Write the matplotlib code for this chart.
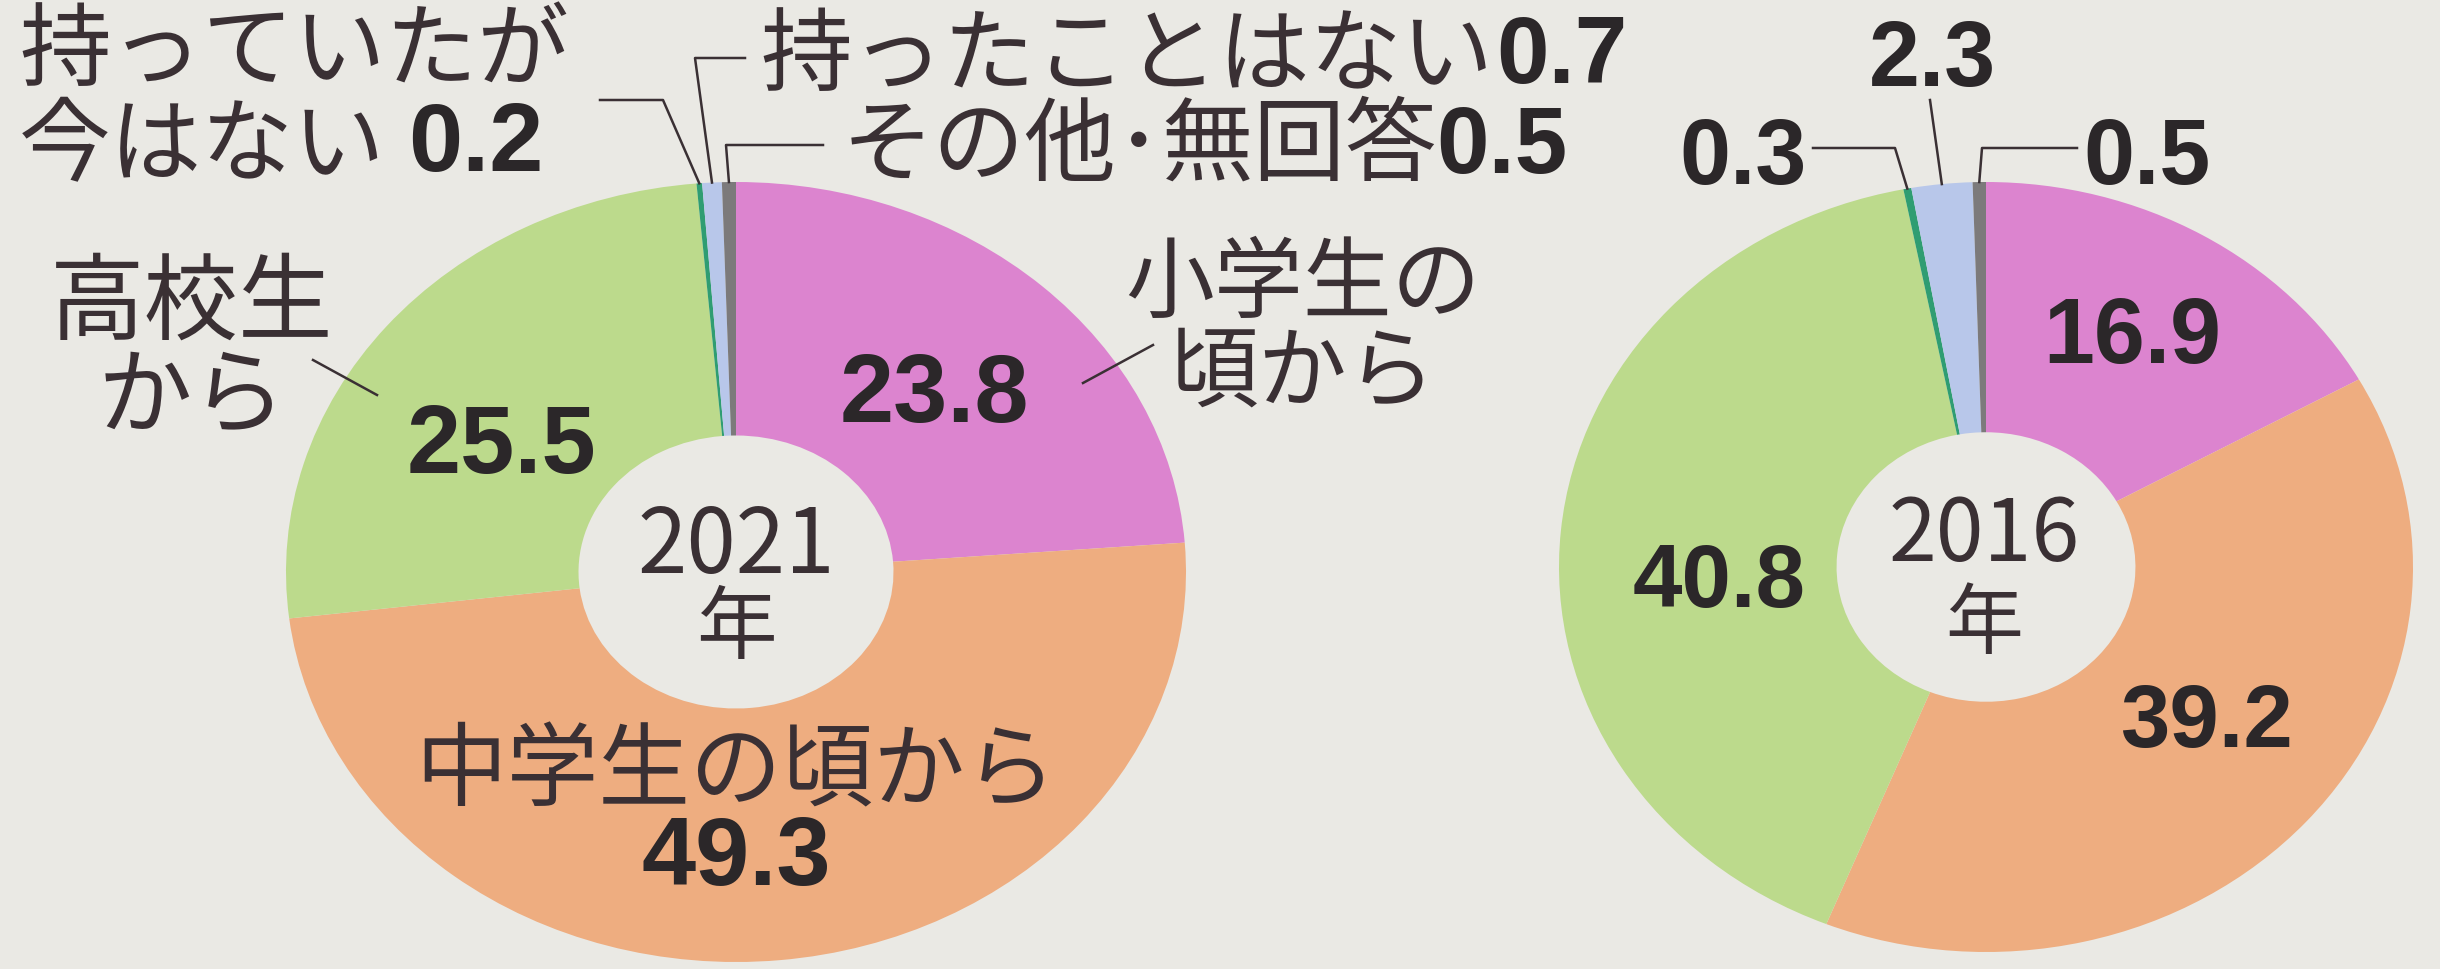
import numpy as np
import matplotlib
matplotlib.use("Agg")
import matplotlib.pyplot as plt
from matplotlib.lines import Line2D

# ============================================================
# DATA  (スマートフォンを持ち始めた時期, %)
# ============================================================

categories = [
    "小学生の頃から",
    "中学生の頃から",
    "高校生から",
    "持っていたが今はない",
    "持ったことはない",
    "その他・無回答",
]

share_2021 = [23.8, 49.3, 25.5, 0.2, 0.7, 0.5]
share_2016 = [16.9, 39.2, 40.8, 0.3, 2.3, 0.5]

years = ["2021", "2016"]

# ============================================================
# STYLE
# ============================================================

W, H = 2440, 969

PAPER = "#eae9e4"
INK = "#3a3034"
NUM_INK = "#2b2729"

COLORS = [
    "#dc84cf",   # 小学生
    "#eead80",   # 中学生
    "#bcda8c",   # 高校生
    "#2f9d72",   # 持っていたが今はない
    "#b8c7ea",   # 持ったことはない
    "#7c7a7b",   # その他・無回答
]

JP = ["Noto Sans CJK JP", "DejaVu Sans"]
NUM = ["Liberation Sans", "DejaVu Sans"]

HOLE = 0.35

fig = plt.figure(figsize=(W / 100, H / 100), dpi=100)
fig.patch.set_facecolor(PAPER)


def fpos(x, y):
    # pixel position (from top-left) -> figure fraction
    return x / W, 1 - y / H


def jp_text(x, y, s, size=62, ha="left", ma="center", ls=0.95):
    fig.text(*fpos(x, y), s, fontsize=size, family=JP, color=INK,
             ha=ha, va="center", multialignment=ma, linespacing=ls)


def num_text(x, y, v, size=70, ha="center"):
    fig.text(*fpos(x, y), f"{v:.1f}", fontsize=size, family=NUM,
             weight="bold", color=NUM_INK, ha=ha, va="center")


def line(p0, p1):
    fig.add_artist(Line2D(*zip(fpos(*p0), fpos(*p1)),
                          transform=fig.transFigure, color=INK, lw=1.8))


def donut(cx, cy, rx, ry, values):

    ax = fig.add_axes([(cx - rx) / W, 1 - (cy + ry) / H,
                       2 * rx / W, 2 * ry / H])

    ax.pie(
        values,
        colors=COLORS,
        startangle=90,
        counterclock=False,
        radius=1,
        wedgeprops=dict(width=1 - HOLE, linewidth=0),
    )

    ax.set_aspect("auto")
    ax.set_xlim(-1, 1)
    ax.set_ylim(-1, 1)
    ax.axis("off")

    return ax


def edge_point(ax, values, i):
    # outer rim point in the middle of slice i, as figure fraction
    total = sum(values)
    before = sum(values[:i])
    theta = np.deg2rad(90 - 360 * (before + values[i] / 2) / total)
    disp = ax.transData.transform((np.cos(theta), np.sin(theta)))
    return fig.transFigure.inverted().transform(disp)


def leader(ax, values, i, pts):
    # pts: elbow points in pixels, the last segment runs to the rim
    xs = [fpos(x, y)[0] for x, y in pts]
    ys = [fpos(x, y)[1] for x, y in pts]
    ex, ey = edge_point(ax, values, i)
    xs.append(ex)
    ys.append(ey)
    fig.add_artist(Line2D(xs, ys, transform=fig.transFigure,
                          color=INK, lw=1.8))


# ============================================================
# 2021
# ============================================================

ax21 = donut(736, 572, 450, 390, share_2021)

jp_text(736, 548, years[0], size=64, ha="center")
jp_text(736, 630, "年", size=58, ha="center")

num_text(934, 397, share_2021[0])
jp_text(1125, 330, "小学生の\n頃から", size=64)
line((1083, 383), (1153, 345))

jp_text(736, 773, "中学生の頃から", size=66, ha="center")
num_text(736, 860, share_2021[1])

num_text(501, 448, share_2021[2])
jp_text(192, 352, "高校生\nから", size=68, ha="center")
line((313, 360), (377, 395))

jp_text(19, 53, "持っていたが", size=66)
jp_text(19, 148, "今はない", size=66)
num_text(408, 146, share_2021[3], size=70, ha="left")
leader(ax21, share_2021, 3, [(600, 100), (663, 100)])

jp_text(760, 58, "持ったことはない", size=66)
num_text(1496, 58, share_2021[4], size=68, ha="left")
leader(ax21, share_2021, 4, [(745, 58), (695, 58)])

jp_text(842, 148, "その他･無回答", size=66)
num_text(1436, 148, share_2021[5], size=68, ha="left")
leader(ax21, share_2021, 5, [(823, 145), (726, 145)])

# ============================================================
# 2016
# ============================================================

ax16 = donut(1986, 567, 427, 385, share_2016)

jp_text(1984, 537, years[1], size=62, ha="center")
jp_text(1984, 626, "年", size=56, ha="center")

num_text(2132, 339, share_2016[0], size=66)
num_text(2206, 724, share_2016[1], size=64)
num_text(1719, 584, share_2016[2], size=64)

num_text(1743, 160, share_2016[3], size=66)
leader(ax16, share_2016, 3, [(1813, 148), (1895, 148)])

num_text(1932, 62, share_2016[4], size=66)
leader(ax16, share_2016, 4, [(1930, 100)])

num_text(2147, 160, share_2016[5], size=66)
leader(ax16, share_2016, 5, [(2077, 148), (1982, 148)])

plt.savefig("out.png", dpi=100, facecolor=PAPER)
plt.close()
